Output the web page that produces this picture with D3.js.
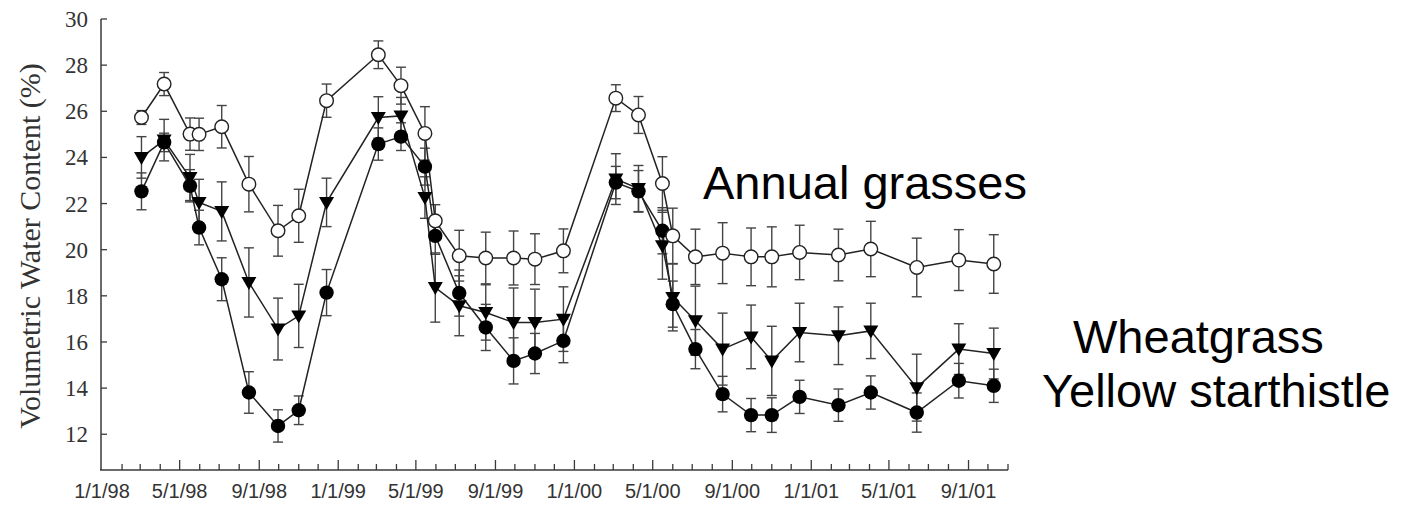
<!DOCTYPE html>
<html>
<head>
<meta charset="utf-8">
<script src="https://cdn.jsdelivr.net/npm/d3@7"></script>
<style>
  html, body { margin: 0; padding: 0; background: #fff; }
  svg { display: block; }
</style>
</head>
<body>
<svg id="chart" width="1401" height="505"></svg>
<script>
// Sampling dates (shared by all three cover types)
const sampleDates = [
  "1998-03-03","1998-04-07","1998-05-17","1998-05-31","1998-07-05","1998-08-16",
  "1998-09-30","1998-11-01","1998-12-14","1999-03-04","1999-04-08","1999-05-15",
  "1999-05-31","1999-07-07","1999-08-17","1999-09-29","1999-11-01","1999-12-15",
  "2000-03-05","2000-04-09","2000-05-16","2000-06-01","2000-07-06","2000-08-17",
  "2000-09-30","2000-11-01","2000-12-14","2001-02-12","2001-04-03","2001-06-13",
  "2001-08-17","2001-10-10"
];

// Volumetric water content (%) and standard errors
const annualGrasses = [25.73,27.18,25.01,25.0,25.33,22.84,20.82,21.47,26.46,28.45,27.11,25.04,
  21.25,19.74,19.64,19.64,19.59,19.95,26.57,25.84,22.87,20.6,19.69,19.85,
  19.69,19.69,19.88,19.77,20.03,19.23,19.55,19.38];
const annualGrassesErr = [0.3,0.5,0.7,0.7,0.92,1.2,1.1,1.15,0.72,0.6,0.8,1.16,
  0.7,1.1,1.12,1.17,1.1,0.95,0.58,0.8,1.16,1.2,1.2,1.32,
  1.25,1.3,1.18,1.12,1.2,1.27,1.32,1.27];

const wheatgrass = [24.0,24.75,23.13,22.05,21.66,18.58,16.56,17.13,22.05,25.73,25.8,22.26,
  18.36,17.57,17.28,16.84,16.84,16.99,23.06,22.65,20.17,17.93,16.92,15.69,
  16.22,15.18,16.41,16.27,16.48,14.02,15.69,15.5];
const wheatgrassErr = [0.9,0.9,1.0,1.0,1.28,1.5,1.34,1.37,1.05,0.9,0.8,0.9,
  1.5,1.3,1.2,1.5,1.45,1.4,1.1,1.0,1.45,1.45,1.5,1.56,
  1.38,1.5,1.27,1.25,1.2,1.45,1.1,1.1];

const yellowStarthistle = [22.53,24.65,22.77,20.96,18.72,13.81,12.36,13.04,18.14,24.58,24.9,23.6,
  20.6,18.12,16.63,15.18,15.5,16.05,22.91,22.53,20.82,17.64,15.69,13.74,
  12.83,12.83,13.62,13.26,13.81,12.94,14.32,14.1];
const yellowStarthistleErr = [0.8,0.4,0.7,0.75,0.93,0.9,0.7,0.62,1.0,0.7,0.6,0.8,
  0.8,1.0,1.0,1.0,0.87,0.95,0.7,0.9,1.0,1.0,0.85,0.77,
  0.72,0.75,0.72,0.7,0.72,0.85,0.75,0.72];

// Axis ticks
const yTicks = [12,14,16,18,20,22,24,26,28,30];
const xLabelDates = ["1998-01-01","1998-05-01","1998-09-01","1999-01-01","1999-05-01","1999-09-01",
  "2000-01-01","2000-05-01","2000-09-01","2001-01-01","2001-05-01","2001-09-01"];

const seriesNames = ["Annual grasses","Wheatgrass","Yellow starthistle"];

const parse = d3.timeParse("%Y-%m-%d");
const dates = sampleDates.map(parse);

const svg = d3.select("#chart");

const x = d3.scaleTime()
  .domain([parse("1998-01-01"), parse("2001-11-01")])
  .range([102, 1008]);
const y = d3.scaleLinear()
  .domain([10.45, 30])
  .range([470, 19]);

const axisColor = "#3a3a3a";

// ---- Y axis (ticks point into the plot)
const yAxis = svg.append("g").attr("transform", "translate(101,0)");
yAxis.append("line")
  .attr("x1", 0).attr("x2", 0)
  .attr("y1", y(30)).attr("y2", 470)
  .attr("stroke", axisColor).attr("stroke-width", 1.5);
yAxis.selectAll("line.tick").data(yTicks).enter().append("line")
  .attr("class", "tick")
  .attr("x1", 0).attr("x2", 6)
  .attr("y1", d => y(d)).attr("y2", d => y(d))
  .attr("stroke", axisColor).attr("stroke-width", 1.3);
yAxis.selectAll("text").data(yTicks).enter().append("text")
  .attr("x", -13).attr("y", d => y(d) + 8)
  .attr("text-anchor", "end")
  .attr("font-family", "'Liberation Serif','Times New Roman',serif")
  .attr("font-size", 23)
  .attr("fill", "#333")
  .text(d => d);

svg.append("text")
  .attr("transform", "translate(40,246) rotate(-90)")
  .attr("text-anchor", "middle")
  .attr("font-family", "'Liberation Serif','Times New Roman',serif")
  .attr("font-size", 30)
  .attr("fill", "#333")
  .text("Volumetric Water Content (%)");

// ---- X axis: monthly ticks, labelled every four months
const xAxisY = 470;
svg.append("line")
  .attr("x1", 100).attr("x2", x.range()[1])
  .attr("y1", xAxisY).attr("y2", xAxisY)
  .attr("stroke", axisColor).attr("stroke-width", 1.5);
const monthTicks = d3.timeMonth.range(parse("1998-02-01"), parse("2001-11-02"));
const labelSet = new Set(xLabelDates);
const fmtKey = d3.timeFormat("%Y-%m-%d");
svg.selectAll("line.xtick").data(monthTicks).enter().append("line")
  .attr("class", "xtick")
  .attr("x1", d => x(d)).attr("x2", d => x(d))
  .attr("y1", xAxisY)
  .attr("y2", d => xAxisY - (labelSet.has(fmtKey(d)) ? 10 : 6))
  .attr("stroke", axisColor).attr("stroke-width", 1.3);
const fmtLabel = d3.timeFormat("%-m/%-d/%y");
svg.selectAll("text.xlab").data(xLabelDates.map(parse)).enter().append("text")
  .attr("class", "xlab")
  .attr("x", d => x(d)).attr("y", 498)
  .attr("text-anchor", "middle")
  .attr("font-family", "'Liberation Sans',Arial,sans-serif")
  .attr("font-size", 20)
  .attr("fill", "#333")
  .text(d => fmtLabel(d));

// ---- Series
const series = [
  { name: seriesNames[2], values: yellowStarthistle, err: yellowStarthistleErr, shape: "dot" },
  { name: seriesNames[1], values: wheatgrass, err: wheatgrassErr, shape: "tri" },
  { name: seriesNames[0], values: annualGrasses, err: annualGrassesErr, shape: "ring" }
];

const capHalf = 5;
// error bars underneath everything else
series.forEach(s => {
  const g = svg.append("g").attr("stroke", "#444").attr("stroke-width", 1.4).attr("fill", "none");
  s.values.forEach((v, i) => {
    const cx = x(dates[i]);
    const top = y(v + s.err[i]), bot = y(v - s.err[i]);
    g.append("line").attr("x1", cx).attr("x2", cx).attr("y1", top).attr("y2", bot);
    g.append("line").attr("x1", cx - capHalf).attr("x2", cx + capHalf).attr("y1", top).attr("y2", top);
    g.append("line").attr("x1", cx - capHalf).attr("x2", cx + capHalf).attr("y1", bot).attr("y2", bot);
  });
});

const line = d3.line().x((d, i) => x(dates[i])).y(d => y(d));
series.forEach(s => {
  svg.append("path")
    .attr("d", line(s.values))
    .attr("fill", "none")
    .attr("stroke", "#222")
    .attr("stroke-width", 1.5);
});

series.forEach(s => {
  const g = svg.append("g");
  s.values.forEach((v, i) => {
    const cx = x(dates[i]), cy = y(v);
    if (s.shape === "dot") {
      g.append("circle").attr("cx", cx).attr("cy", cy).attr("r", 7.2).attr("fill", "#000");
    } else if (s.shape === "ring") {
      g.append("circle").attr("cx", cx).attr("cy", cy).attr("r", 6.8)
        .attr("fill", "#fff").attr("stroke", "#222").attr("stroke-width", 1.4);
    } else {
      g.append("path")
        .attr("d", `M${cx - 7.5},${cy - 5.5} L${cx + 7.5},${cy - 5.5} L${cx},${cy + 7.5} Z`)
        .attr("fill", "#000");
    }
  });
});

// ---- Series labels
const labelFont = "'Liberation Sans',Arial,sans-serif";
svg.append("text").attr("x", 703).attr("y", 199)
  .attr("font-family", labelFont).attr("font-size", 47).attr("fill", "#000")
  .text(seriesNames[0]);
svg.append("text").attr("x", 1073).attr("y", 353)
  .attr("font-family", labelFont).attr("font-size", 47).attr("fill", "#000")
  .text(seriesNames[1]);
svg.append("text").attr("x", 1042).attr("y", 407)
  .attr("font-family", labelFont).attr("font-size", 47).attr("fill", "#000")
  .text(seriesNames[2]);
</script>
</body>
</html>
